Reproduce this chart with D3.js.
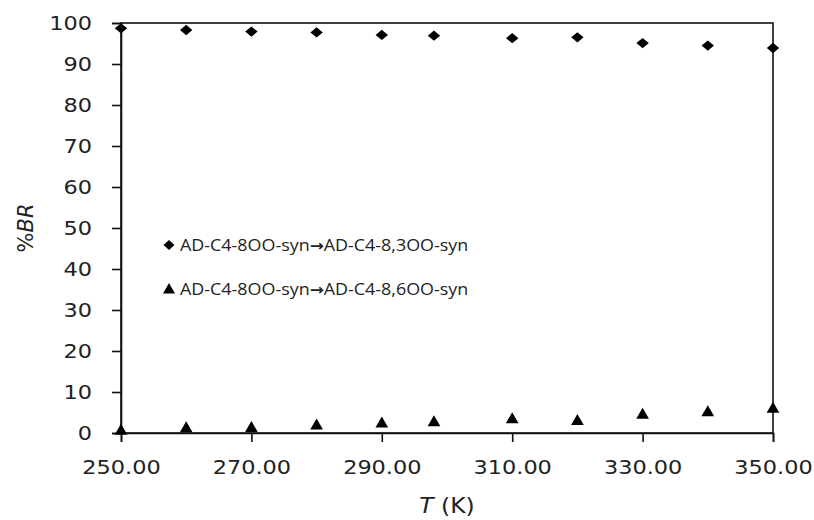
<!DOCTYPE html>
<html>
<head>
<meta charset="utf-8">
<script src="https://cdn.jsdelivr.net/npm/d3@7"></script>
<style>
  body { margin: 0; background: #fff; }
  svg text { fill: #222; }
</style>
</head>
<body>
<div id="chart"></div>
<script>
// Temperatures (K)
const temps = [250, 260, 270, 280, 290, 298, 310, 320, 330, 340, 350];
// %BR for each channel
const br83 = [98.7, 98.3, 97.9, 97.7, 97.1, 96.9, 96.3, 96.5, 95.1, 94.5, 93.9];
const br86 = [0.7, 1.3, 1.4, 2.0, 2.5, 2.8, 3.5, 3.1, 4.6, 5.2, 6.1];
const xTicks = [250, 270, 290, 310, 330, 350];
const yTicks = [0, 10, 20, 30, 40, 50, 60, 70, 80, 90, 100];
const legendFrom = 'AD-C4-8OO-syn';
const legendTo = ['AD-C4-8,3OO-syn', 'AD-C4-8,6OO-syn'];

const width = 814, height = 520;
const margin = { top: 23, right: 41, bottom: 87, left: 121 };

const svg = d3.select('#chart').append('svg')
  .attr('width', width)
  .attr('height', height);

const x = d3.scaleLinear().domain([250, 350]).range([margin.left, width - margin.right]);
const y = d3.scaleLinear().domain([0, 100]).range([height - margin.bottom, margin.top]);

const tickFont = 'DejaVu Sans, Verdana, sans-serif';
const stretch = 1.12; // the reference text is a bit wide

// Plot frame
svg.append('rect')
  .attr('x', x(250)).attr('y', y(100))
  .attr('width', x(350) - x(250)).attr('height', y(0) - y(100))
  .attr('fill', 'none').attr('stroke', '#111').attr('stroke-width', 1.6);

// Y axis
const yAxis = svg.append('g')
  .attr('transform', `translate(${x(250)},0)`)
  .call(d3.axisLeft(y).tickValues(yTicks).tickSize(9).tickPadding(16));
yAxis.select('.domain').attr('stroke', '#111').attr('stroke-width', 1.6);
yAxis.selectAll('.tick line').attr('stroke', '#111').attr('stroke-width', 1.6);
yAxis.selectAll('.tick text')
  .attr('x', null)
  .attr('transform', `translate(-29,0) scale(${stretch},1)`)
  .style('font-family', tickFont).style('font-size', '20px').attr('fill', '#222');

// X axis
const xAxis = svg.append('g')
  .attr('transform', `translate(0,${y(0)})`)
  .call(d3.axisBottom(x).tickValues(xTicks).tickSize(9).tickPadding(18).tickFormat(d3.format('.2f')));
xAxis.select('.domain').attr('stroke', '#111').attr('stroke-width', 1.6);
xAxis.selectAll('.tick line').attr('stroke', '#111').attr('stroke-width', 1.6);
xAxis.selectAll('.tick text')
  .attr('transform', `scale(${stretch},1)`)
  .style('font-family', tickFont).style('font-size', '20px').attr('fill', '#222');

// Axis titles
const yTitle = svg.append('text')
  .attr('transform', `translate(33,${(y(0) + y(100)) / 2}) rotate(-90) scale(1.05,1.1)`)
  .attr('text-anchor', 'middle')
  .style('font-family', tickFont).style('font-size', '20px');
yTitle.append('tspan').text('%');
yTitle.append('tspan').style('font-style', 'italic').text('BR');

const xTitle = svg.append('text')
  .attr('transform', `translate(${(x(250) + x(350)) / 2},513) scale(${stretch},1)`)
  .attr('text-anchor', 'middle')
  .style('font-family', tickFont).style('font-size', '21px');
xTitle.append('tspan').style('font-style', 'italic').text('T');
xTitle.append('tspan').text(' (K)');

// Markers
const diamond = d3.symbol().type(d3.symbolDiamond2).size(68);
const triangle = d3.symbol().type(d3.symbolTriangle).size(70);

svg.append('g').selectAll('path')
  .data(temps.map((t, i) => [t, br83[i]]))
  .join('path')
  .attr('d', diamond)
  .attr('transform', d => `translate(${x(d[0])},${y(d[1])}) scale(1.2,1)`)
  .attr('fill', '#000');

svg.append('g').selectAll('path')
  .data(temps.map((t, i) => [t, br86[i]]))
  .join('path')
  .attr('d', triangle)
  .attr('transform', d => `translate(${x(d[0])},${y(d[1]) + 1})`)
  .attr('fill', '#000');

// Legend
const legend = svg.append('g');
const legendY = [245, 289];
legend.append('path').attr('d', d3.symbol().type(d3.symbolDiamond2).size(64))
  .attr('transform', `translate(169,${legendY[0]}) scale(1.1,1)`).attr('fill', '#000');
legend.append('path').attr('d', d3.symbol().type(d3.symbolTriangle).size(62))
  .attr('transform', `translate(169,${legendY[1] + 1})`).attr('fill', '#000');
const items = legend.selectAll('text')
  .data(legendTo)
  .join('text')
  .attr('transform', (d, i) => `translate(180,${legendY[i] + 6}) scale(${stretch},1)`)
  .style('font-family', 'Open Sans, sans-serif')
  .style('font-size', '16px');
items.append('tspan').text(legendFrom);
items.append('tspan')
  .style('font-family', 'DejaVu Sans, sans-serif')
  .style('font-size', '15px')
  .style('font-weight', 'bold')
  .text('\u2192');
items.append('tspan').text(d => d);
</script>
</body>
</html>
